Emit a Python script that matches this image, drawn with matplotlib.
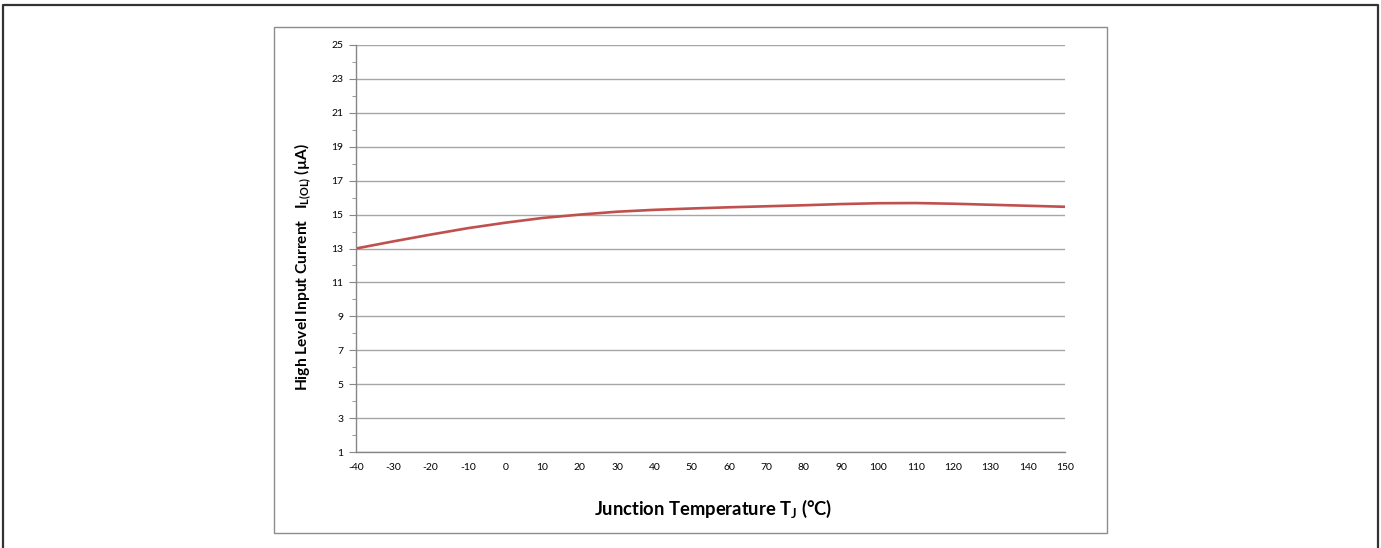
import matplotlib
matplotlib.use("Agg")
import matplotlib.pyplot as plt
from matplotlib.patches import Rectangle
from matplotlib.lines import Line2D

# junction temperature (°C) and high level input current (µA)
temp = [-40, -30, -20, -10, 0, 10, 20, 30, 40, 50, 60, 70, 80, 90, 100, 110, 120, 130, 140, 150]
current = [13.0, 13.42, 13.82, 14.2, 14.52, 14.8, 15.0, 15.17, 15.28, 15.36, 15.43, 15.49,
           15.55, 15.62, 15.67, 15.68, 15.64, 15.58, 15.52, 15.46]
x_ticks = list(range(-40, 151, 10))
y_ticks = list(range(1, 26, 2))

plt.rcParams['font.family'] = ['Lato', 'DejaVu Sans']
plt.rcParams['mathtext.fontset'] = 'custom'
plt.rcParams['mathtext.rm'] = 'Lato'
plt.rcParams['mathtext.bf'] = 'Lato:bold'
plt.rcParams['axes.unicode_minus'] = False

W, H = 1381, 548
fig = plt.figure(figsize=(W / 100, H / 100), dpi=100)

# outer frame (left, top, right)
fx = lambda px: px / W
fy = lambda py: 1 - py / H
fig.add_artist(Line2D([fx(3), fx(3), fx(1378), fx(1378)], [0, fy(5), fy(5), 0],
                      transform=fig.transFigure, color='#333333', lw=1.6))
# chart box
fig.add_artist(Rectangle((fx(274), fy(533)), (1107 - 274) / W, (533 - 27) / H,
                         transform=fig.transFigure, fill=False, edgecolor='#8c8c8c', lw=1))

ax = fig.add_axes([fx(356), fy(452), (1065 - 356) / W, (452 - 45) / H])
ax.plot(temp, current, color='#C0504D', lw=1.9, solid_capstyle='butt')

ax.set_xlim(-40, 150)
ax.set_ylim(1, 25)
ax.set_xticks(x_ticks)
ax.set_yticks(y_ticks)
ax.set_yticks(range(2, 25, 2), minor=True)
ax.grid(axis='y', which='major', color='#a6a6a6', lw=1)
ax.set_axisbelow(True)
for s in ['top', 'right']:
    ax.spines[s].set_visible(False)
for s in ['left', 'bottom']:
    ax.spines[s].set_color('#868686')
    ax.spines[s].set_linewidth(1)
ax.tick_params(axis='y', which='major', length=5, color='#868686', labelsize=7.5, pad=4)
ax.tick_params(axis='y', which='minor', length=3, color='#868686')
ax.tick_params(axis='x', length=0, labelsize=7.5, pad=8)

ax.set_xlabel(r"Junction Temperature T$_\mathbf{J}$ (°C)", fontsize=13.2, fontweight='bold')
ax.set_ylabel(r"High Level Input Current   $\mathbf{I_{L(OL)}}$ (µA)", fontsize=11.2,
              fontweight='bold')
ax.xaxis.set_label_coords(0.5035, -0.112)
ax.yaxis.set_label_coords(-0.06, 0.455)

fig.savefig("out.png", dpi=100)
